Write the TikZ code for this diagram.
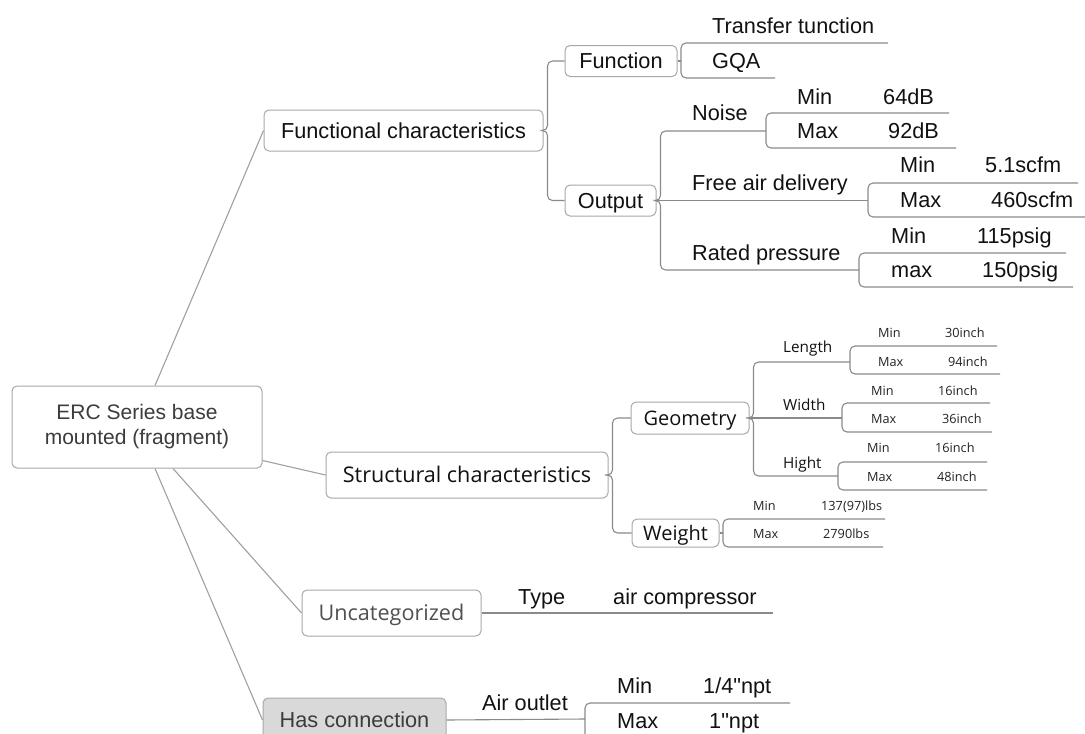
\documentclass[tikz,border=0pt]{standalone}
\usepackage{fontspec}
\setmainfont{Liberation Sans}[Ligatures=TeXOff]
\newfontfamily\os{Open Sans}
\definecolor{bordc}{HTML}{A8A8A8}
\definecolor{linec}{HTML}{8A8A8A}
\definecolor{rootline}{HTML}{A0A0A0}
\definecolor{txtc}{HTML}{111111}
\definecolor{rootc}{HTML}{3C3C3C}
\definecolor{uncc}{HTML}{505050}
\definecolor{smc}{HTML}{222222}
\definecolor{hasfill}{HTML}{D9D9D9}
\tikzset{
  box/.style={draw=bordc, line width=1pt, rounded corners=5pt, inner sep=0pt, fill=white},
  conn/.style={draw=linec, line width=1.1pt},
  rconn/.style={draw=rootline, line width=1.1pt},
  brk/.style={conn, rounded corners=5pt},
  big/.style={font=\fontsize{21.7}{26}\selectfont, text=txtc, text height=15.6pt, text depth=0pt},
  osbig/.style={font=\os\fontsize{20}{24}\selectfont, text=txtc, text height=14.3pt, text depth=0pt},
  oslarge/.style={font=\os\fontsize{21.6}{26}\selectfont, text=txtc, text height=15.4pt, text depth=0pt},
  lf/.style={anchor=west, inner sep=0pt, text height=15.5pt, text depth=0pt, font=\fontsize{21.7}{26}\selectfont, text=txtc},
  sm/.style={anchor=west, inner sep=0pt, text height=9pt, text depth=0pt, font=\os\fontsize{12.7}{15}\selectfont, text=smc},
  md/.style={anchor=west, inner sep=0pt, text height=11pt, text depth=0pt, font=\os\fontsize{15.3}{18}\selectfont, text=txtc},
}
\begin{document}
\begin{tikzpicture}[x=1pt,y=-1pt]
\useasboundingbox (0,0) rectangle (1085,734);
\clip (0,0) rectangle (1085,734);
% boxes
\node[box, minimum width=250, minimum height=82, align=center, font=\fontsize{21}{25}\selectfont, text=rootc] (root) at (137,427) {ERC Series base\\mounted (fragment)};
\node[box, minimum width=279, minimum height=41, big] (fc) at (403.5,130.5) {Functional characteristics};
\node[box, minimum width=112, minimum height=31, big] (func) at (621,61) {Function};
\node[box, minimum width=91, minimum height=31, big] (out) at (610.5,200.5) {Output};
\node[box, minimum width=282, minimum height=46, oslarge] (st) at (467,475) {Structural characteristics};
\node[box, minimum width=118, minimum height=32, osbig] (geo) at (690,418) {Geometry};
\node[box, minimum width=87, minimum height=28, osbig] (wt) at (675.5,533) {Weight};
\node[box, minimum width=179, minimum height=46, oslarge, text=uncc] (unc) at (391.5,613) {Uncategorized};
\node[box, fill=hasfill, minimum width=183, minimum height=44, big, text=rootc] (has) at (354.5,720) {Has connection};
% root connectors
\draw[rconn] ([xshift=18pt]root.north) -- (fc.west);
\draw[rconn] ([yshift=8pt]root.south east) -- (st.west);
\draw[rconn] ([xshift=36pt]root.south) -- (unc.west);
\draw[rconn] ([xshift=18pt]root.south) -- (has.west);
% functional
\draw[brk] (fc.east) -- ++(4,0) |- (func.west);
\draw[brk] (fc.east) -- ++(4,0) |- (out.west);
\coordinate (fb) at (681,61);
\draw[conn] (func.east) -- (fb);
\draw[brk] (888,43) -- (681,43) -- (681,78) -- (775,78);
\node[lf] (t1) at (712,26) {Transfer tunction};
\node[lf] (t2) at (712,61) {GQA};
% output
\coordinate (nb) at (766,131);
\coordinate (ab) at (868,200.5);
\coordinate (pb) at (859,270);
\draw[brk] (out.east) -- ++(4,0) |- (nb);
\draw[conn] (out.east) -- (ab);
\draw[brk] (out.east) -- ++(4,0) |- (pb);
\node[lf] (noise) at (692,113) {Noise};
\node[lf] (fad) at (692,183) {Free air delivery};
\node[lf] (rp) at (692,253) {Rated pressure};
\draw[brk] (949,113) -- (766,113) -- (766,148) -- (956,148);
\draw[brk] (1078,183) -- (868,183) -- (868,217) -- (1085,217);
\draw[brk] (1066,253) -- (859,253) -- (859,287) -- (1073,287);
\node[lf] (n1) at (797,97) {Min};
\node[lf] (n1v) at (883,97) {64dB};
\node[lf] (n2) at (797,131) {Max};
\node[lf] (n2v) at (888,131) {92dB};
\node[lf] (a1) at (900,165) {Min};
\node[lf] (a1v) at (985,165) {5.1scfm};
\node[lf] (a2) at (900,200) {Max};
\node[lf] (a2v) at (991,200) {460scfm};
\node[lf] (p1) at (891,236) {Min};
\node[lf] (p1v) at (977,236) {115psig};
\node[lf] (p2) at (891,270) {max};
\node[lf] (p2v) at (982,270) {150psig};
% structural
\draw[brk] (st.east) -- ++(4,0) |- (geo.west);
\draw[brk] (st.east) -- ++(4,0) |- (wt.west);
\coordinate (lb) at (850,362);
\coordinate (wb) at (842,418);
\coordinate (hb) at (838,476);
\draw[brk] (geo.east) -- ++(4,0) |- (lb);
\draw[conn] (geo.east) -- (wb);
\draw[brk] (geo.east) -- ++(4,0) |- (hb);
\node[md] (len) at (783,347) {Length};
\node[md] (wid) at (783,405) {Width};
\node[md] (hig) at (783,463) {Hight};
\draw[brk] (997,346) -- (850,346) -- (850,374) -- (1000,374);
\draw[brk] (990,403) -- (842,403) -- (842,432) -- (992,432);
\draw[brk] (987,462) -- (838,462) -- (838,490) -- (987,490);
\node[sm] (l1) at (878,333) {Min};
\node[sm] (l1v) at (945,333) {30inch};
\node[sm] (l2) at (878,362) {Max};
\node[sm] (l2v) at (948,362) {94inch};
\node[sm] (w1) at (871,391) {Min};
\node[sm] (w1v) at (938,391) {16inch};
\node[sm] (w2) at (871,419) {Max};
\node[sm] (w2v) at (942,419) {36inch};
\node[sm] (h1) at (867,448) {Min};
\node[sm] (h1v) at (935,448) {16inch};
\node[sm] (h2) at (867,477) {Max};
\node[sm] (h2v) at (937,477) {48inch};
\coordinate (wtb) at (723,533);
\draw[conn] (wt.east) -- (wtb);
\draw[brk] (885,519) -- (723,519) -- (723,547) -- (883,547);
\node[sm] (g1) at (753,506) {Min};
\node[sm] (g1v) at (821,506) {137(97)lbs};
\node[sm] (g2) at (753,534) {Max};
\node[sm] (g2v) at (823,534) {2790lbs};
% uncategorized
\coordinate (ue) at (773,613);
\draw[conn] (unc.east) -- (ue);
\node[lf] (ty) at (518,597) {Type};
\node[lf] (tyv) at (613,597) {air compressor};
% has connection
\coordinate (hcb) at (585,719);
\draw[conn] (has.east) -- (hcb);
\draw[brk] (790,703) -- (585,703) -- (585,745);
\node[lf] (ao) at (482,703) {Air outlet};
\node[lf] (o1) at (617,686) {Min};
\node[lf] (o1v) at (703,686) {1/4"npt};
\node[lf] (o2) at (617,721) {Max};
\node[lf] (o2v) at (709,721) {1"npt};
\end{tikzpicture}
\end{document}
